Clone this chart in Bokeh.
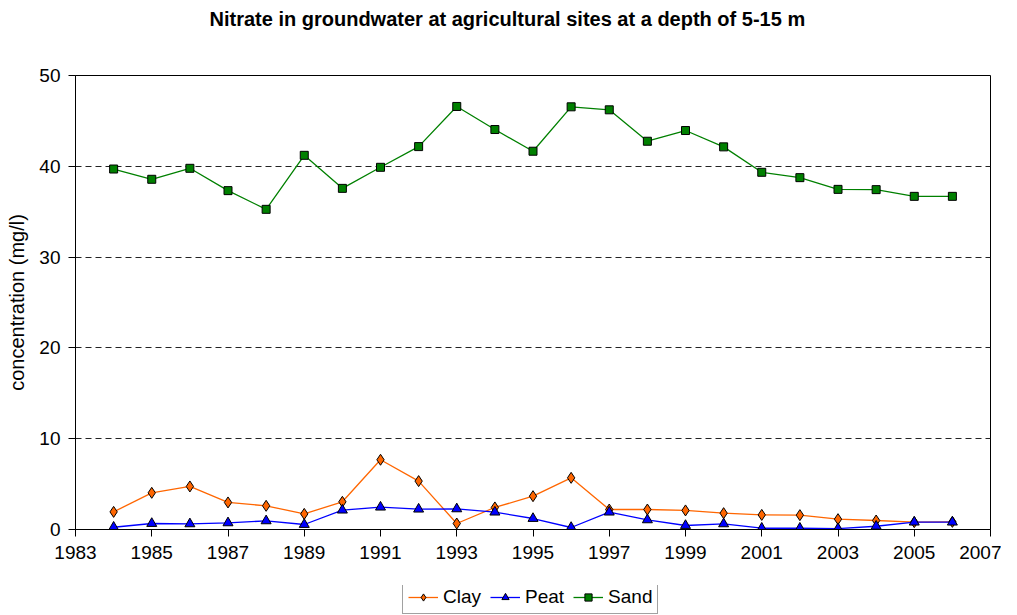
from bokeh.plotting import figure
from bokeh.models import Range1d, FixedTicker, Legend, Title
from bokeh.layouts import column
from bokeh.embed import file_html
from bokeh.resources import INLINE

years = list(range(1984, 2007))
clay = [1.94, 4.04, 4.74, 2.98, 2.61, 1.72, 3.05, 7.68, 5.33, 0.66, 2.43, 3.67,
        5.69, 2.2, 2.2, 2.1, 1.8, 1.61, 1.58, 1.14, 0.99, 0.81, 0.84]
peat = [0.25, 0.66, 0.62, 0.73, 0.95, 0.55, 2.13, 2.46, 2.24, 2.27, 1.91, 1.21,
        0.22, 1.91, 1.06, 0.44, 0.62, 0.14, 0.14, 0.1, 0.36, 0.81, 0.81]
sand = [39.7, 38.57, 39.78, 37.32, 35.26, 41.21, 37.57, 39.89, 42.17, 46.59, 44.05, 41.66,
        46.55, 46.22, 42.76, 43.94, 42.14, 39.34, 38.75, 37.46, 37.43, 36.69, 36.69]
x_ticks = [1983, 1985, 1987, 1989, 1991, 1993, 1995, 1997, 1999, 2001, 2003, 2005, 2007]
y_ticks = [0, 10, 20, 30, 40, 50]
title_text = "Nitrate in groundwater at agricultural sites at a depth of 5-15 m"
y_label = "concentration (mg/l)"

FONT = "Liberation Sans"

p = figure(width=1001, height=585, output_backend="svg", toolbar_location=None,
           x_range=Range1d(1983, 2007), y_range=Range1d(0, 50),
           min_border_left=75, min_border_right=11, min_border_top=75, min_border_bottom=56)
p.background_fill_color = "white"
p.border_fill_color = "white"
p.outline_line_color = "black"
p.outline_line_width = 1

p.xgrid.visible = False
p.ygrid.ticker = FixedTicker(ticks=[10, 20, 30, 40])
p.ygrid.grid_line_color = "#222222"
p.ygrid.grid_line_dash = "6 4"
p.ygrid.grid_line_width = 1

for ax in (p.xaxis[0], p.yaxis[0]):
    ax.axis_line_color = "black"
    ax.major_tick_line_color = "black"
    ax.major_tick_in = 0
    ax.major_tick_out = 7
    ax.minor_tick_line_color = None
    ax.major_label_text_font = FONT
    ax.major_label_text_font_size = "19px"
    ax.major_label_text_color = "black"

p.xaxis[0].ticker = FixedTicker(ticks=x_ticks)
p.yaxis[0].ticker = FixedTicker(ticks=y_ticks)
p.xaxis[0].major_label_standoff = 9
p.yaxis[0].major_label_standoff = 8
p.yaxis[0].axis_label = y_label
p.yaxis[0].axis_label_text_font = FONT
p.yaxis[0].axis_label_text_font_size = "20px"
p.yaxis[0].axis_label_text_font_style = "normal"
p.yaxis[0].axis_label_text_color = "black"
p.yaxis[0].axis_label_standoff = 8

series = [
    ("Clay", clay, "#FF6600", "diamond", 11),
    ("Peat", peat, "#0000FF", "triangle", 10),
    ("Sand", sand, "#008000", "square", 8),
]

# legend strip: a small figure holding only the legend; its own copies of the
# series lie outside its (empty) view so only the legend shows
lg = figure(width=1001, height=30, output_backend="svg", toolbar_location=None,
            x_axis_type=None, y_axis_type=None,
            x_range=Range1d(1983, 2007), y_range=Range1d(-200, -100),
            min_border_left=0, min_border_right=0, min_border_top=0, min_border_bottom=0)
lg.outline_line_color = None
lg.xgrid.visible = False
lg.ygrid.visible = False
lg.background_fill_color = "white"
lg.border_fill_color = "white"

items = []
for name, vals, col, marker, size in series:
    p.line(years, vals, line_color=col, line_width=1.3)
    p.scatter(years, vals, marker=marker, size=size, fill_color=col,
              line_color="black", line_width=1)
    l1 = lg.line(years, vals, line_color=col, line_width=1.3)
    l2 = lg.scatter(years, vals, marker=marker, size=size, fill_color=col,
                    line_color="black", line_width=1)
    items.append((name, [l1, l2]))

legend = Legend(items=items, orientation="horizontal", location=(327, 1))
legend.label_text_font = FONT
legend.label_text_font_size = "19px"
legend.label_text_color = "black"
legend.glyph_width = 30
legend.glyph_height = 18
legend.label_height = 18
legend.label_standoff = 5
legend.spacing = 9
legend.padding = 5
legend.margin = 0
legend.border_line_color = "#444444"
legend.border_line_width = 1
legend.background_fill_alpha = 1
lg.add_layout(legend, "center")

spacer = Title(text=" ", standoff=22, text_font=FONT, text_font_size="20px")
p.add_layout(spacer, "above")
title = Title(text=title_text, align="left", offset=134, standoff=0,
              text_font=FONT, text_font_size="20px", text_font_style="bold",
              text_color="black")
p.add_layout(title, "above")

layout = column(p, lg)
open("out.html", "w").write(file_html(layout, INLINE))
